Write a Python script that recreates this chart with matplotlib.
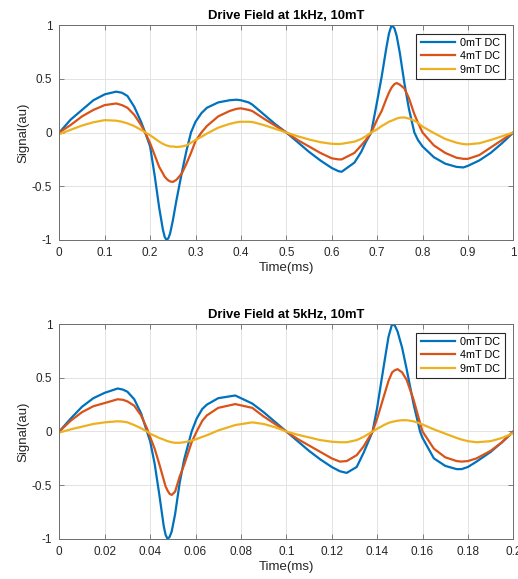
import matplotlib
matplotlib.use("Agg")
import matplotlib.pyplot as plt

plt.rcParams['font.family'] = ['Liberation Sans', 'DejaVu Sans']

# --- 1kHz drive (time in ms) ---
t_1k = [0, 0.025, 0.05, 0.075, 0.1, 0.125, 0.138, 0.15, 0.165, 0.18, 0.19, 0.2, 0.21, 0.22,
        0.228, 0.232, 0.236, 0.240, 0.244, 0.25, 0.258, 0.27, 0.28, 0.29, 0.3, 0.313, 0.325,
        0.35, 0.375, 0.39, 0.4, 0.417, 0.425, 0.45, 0.475, 0.5, 0.525, 0.55, 0.575, 0.6,
        0.615, 0.622, 0.65, 0.665, 0.675, 0.687, 0.7, 0.71, 0.72, 0.726, 0.732, 0.738,
        0.743, 0.75, 0.76, 0.77, 0.782, 0.79, 0.8, 0.825, 0.85, 0.875, 0.89, 0.9, 0.925,
        0.95, 0.975, 1.0]
dc0_1k = [0.0, 0.12, 0.21, 0.30, 0.355, 0.38, 0.37, 0.34, 0.24, 0.10, -0.01, -0.13, -0.40,
          -0.70, -0.90, -0.97, -1.0, -0.985, -0.94, -0.82, -0.63, -0.37, -0.17, 0.0, 0.10,
          0.18, 0.23, 0.28, 0.30, 0.305, 0.30, 0.28, 0.26, 0.17, 0.08, 0.0, -0.09, -0.18,
          -0.26, -0.33, -0.36, -0.365, -0.28, -0.18, -0.09, 0.0, 0.29, 0.52, 0.78, 0.92,
          1.0, 0.97, 0.90, 0.74, 0.46, 0.22, 0.0, -0.07, -0.13, -0.23, -0.29, -0.32, -0.325,
          -0.31, -0.26, -0.19, -0.10, 0.0]
dc4_1k = [0.0, 0.07, 0.15, 0.21, 0.255, 0.27, 0.255, 0.23, 0.165, 0.07, -0.01, -0.10, -0.21,
          -0.32, -0.38, -0.41, -0.43, -0.445, -0.455, -0.46, -0.44, -0.38, -0.29, -0.19,
          -0.08, 0.0, 0.06, 0.15, 0.20, 0.22, 0.225, 0.21, 0.20, 0.13, 0.065, 0.0, -0.07,
          -0.13, -0.19, -0.24, -0.25, -0.25, -0.19, -0.12, -0.07, 0.0, 0.12, 0.20, 0.31,
          0.37, 0.42, 0.45, 0.46, 0.445, 0.41, 0.32, 0.17, 0.09, 0.0, -0.12, -0.19, -0.235,
          -0.245, -0.245, -0.21, -0.14, -0.07, 0.0]
dc9_1k = [-0.015, 0.025, 0.065, 0.095, 0.115, 0.11, 0.10, 0.085, 0.06, 0.025, 0.0, -0.025,
          -0.055, -0.085, -0.105, -0.113, -0.12, -0.125, -0.13, -0.13, -0.135, -0.13, -0.12,
          -0.095, -0.07, -0.04, -0.01, 0.045, 0.08, 0.095, 0.10, 0.10, 0.098, 0.07, 0.035,
          0.0, -0.035, -0.065, -0.09, -0.105, -0.107, -0.105, -0.085, -0.06, -0.035, 0.0,
          0.03, 0.06, 0.085, 0.10, 0.11, 0.12, 0.13, 0.138, 0.14, 0.13, 0.11, 0.09, 0.055,
          -0.005, -0.06, -0.095, -0.108, -0.11, -0.10, -0.07, -0.035, 0.0]

# --- 5kHz drive (time in ms) ---
t_5k = [0, 0.005, 0.01, 0.015, 0.02, 0.0257, 0.028, 0.03, 0.033, 0.036, 0.0386, 0.04,
        0.042, 0.044, 0.046, 0.0468, 0.0477, 0.0486, 0.0495, 0.051, 0.053, 0.055, 0.0583,
        0.0605, 0.063, 0.065, 0.07, 0.0775, 0.085, 0.09, 0.095, 0.1, 0.105, 0.11, 0.115,
        0.12, 0.1236, 0.1266, 0.131, 0.134, 0.138, 0.14, 0.143, 0.145, 0.1466, 0.1478,
        0.149, 0.151, 0.153, 0.156, 0.1589, 0.16, 0.165, 0.17, 0.175, 0.1772, 0.18,
        0.1838, 0.19, 0.195, 0.2]
dc0_5k = [0.0, 0.12, 0.23, 0.31, 0.36, 0.40, 0.39, 0.37, 0.30, 0.17, 0.0, -0.09,
          -0.30, -0.58, -0.88, -0.96, -1.0, -0.98, -0.93, -0.77, -0.48, -0.26, 0.0,
          0.12, 0.21, 0.25, 0.31, 0.335, 0.26, 0.18, 0.09, 0.0, -0.09, -0.18, -0.26,
          -0.33, -0.37, -0.385, -0.33, -0.20, 0.0, 0.22, 0.62, 0.88, 1.0, 0.985,
          0.93, 0.78, 0.58, 0.26, 0.0, -0.06, -0.25, -0.32, -0.35, -0.35, -0.33,
          -0.28, -0.19, -0.10, 0.0]
dc4_5k = [0.0, 0.10, 0.18, 0.235, 0.265, 0.30, 0.295, 0.28, 0.24, 0.15, 0.03, -0.05,
          -0.16, -0.30, -0.45, -0.51, -0.55, -0.58, -0.59, -0.56, -0.42, -0.31, -0.10,
          0.0, 0.10, 0.15, 0.22, 0.255, 0.22, 0.14, 0.07, 0.0, -0.07, -0.13, -0.19,
          -0.25, -0.28, -0.275, -0.22, -0.14, 0.0, 0.12, 0.33, 0.47, 0.55, 0.57,
          0.58, 0.55, 0.48, 0.30, 0.08, 0.0, -0.16, -0.24, -0.275, -0.28, -0.275,
          -0.25, -0.18, -0.10, 0.0]
dc9_5k = [-0.01, 0.02, 0.045, 0.07, 0.085, 0.095, 0.092, 0.085, 0.06, 0.03, 0.0, -0.02,
          -0.04, -0.06, -0.075, -0.083, -0.09, -0.095, -0.10, -0.105, -0.105, -0.10, -0.085,
          -0.07, -0.05, -0.035, 0.01, 0.06, 0.085, 0.07, 0.04, 0.0, -0.03, -0.055, -0.08,
          -0.095, -0.10, -0.10, -0.08, -0.05, 0.0, 0.025, 0.06, 0.08, 0.09, 0.095,
          0.10, 0.105, 0.105, 0.095, 0.075, 0.065, 0.02, -0.02, -0.06, -0.075, -0.09,
          -0.10, -0.09, -0.06, -0.015]

series_names = ['0mT DC', '4mT DC', '9mT DC']
colors = ['#0072BD', '#D95319', '#EDB120']

titles = ['Drive Field at 1kHz, 10mT', 'Drive Field at 5kHz, 10mT']
xticks_1k = [0, 0.1, 0.2, 0.3, 0.4, 0.5, 0.6, 0.7, 0.8, 0.9, 1.0]
xlabels_1k = ['0', '0.1', '0.2', '0.3', '0.4', '0.5', '0.6', '0.7', '0.8', '0.9', '1']
xticks_5k = [0, 0.02, 0.04, 0.06, 0.08, 0.1, 0.12, 0.14, 0.16, 0.18, 0.2]
xlabels_5k = ['0', '0.02', '0.04', '0.06', '0.08', '0.1', '0.12', '0.14', '0.16', '0.18', '0.2']
yticks = [-1, -0.5, 0, 0.5, 1]
ylabels = ['-1', '-0.5', '0', '0.5', '1']

fig = plt.figure(figsize=(5.18, 5.79), dpi=100)
ax1 = fig.add_axes([0.1145, 0.5855, 0.8765, 0.3713])
ax2 = fig.add_axes([0.1145, 0.0691, 0.8765, 0.3713])

panels = [
    (ax1, t_1k, [dc0_1k, dc4_1k, dc9_1k], xticks_1k, xlabels_1k, titles[0]),
    (ax2, t_5k, [dc0_5k, dc4_5k, dc9_5k], xticks_5k, xlabels_5k, titles[1]),
]

axis_col = '#262626'
for ax, t, ys, xt, xl, title in panels:
    for y, name, c in zip(ys, series_names, colors):
        ax.plot(t, y, color=c, lw=1.6, label=name, solid_joinstyle='round')

    ax.set_xlim(xt[0], xt[-1])
    ax.set_ylim(-1, 1)
    ax.set_xticks(xt)
    ax.set_xticklabels(xl)
    ax.set_yticks(yticks)
    ax.set_yticklabels(ylabels)

    # matlab-ish look: box, inward ticks on all sides, faint grid
    ax.grid(True, color='#e3e3e3', lw=0.7)
    ax.set_axisbelow(True)
    for sp in ax.spines.values():
        sp.set_color('#6e6e6e')
        sp.set_linewidth(0.7)
    ax.tick_params(direction='in', length=3.5, width=0.6, color='#6e6e6e',
                   top=True, right=True, labelsize=8.5, labelcolor=axis_col, pad=5)

    ax.set_title(title, fontsize=9.4, fontweight='bold', color='black', pad=4)
    ax.set_xlabel('Time(ms)', fontsize=9.5, color=axis_col, labelpad=2.5)
    ax.set_ylabel('Signal(au)', fontsize=9.5, color=axis_col, labelpad=1.5)

    leg = ax.legend(loc='upper right', fontsize=7.8, fancybox=False, framealpha=1,
                    edgecolor='#262626', handlelength=3.2, borderaxespad=0.8,
                    borderpad=0.4, labelspacing=0.3, handletextpad=0.45)
    leg.get_frame().set_linewidth(0.8)

plt.savefig('out.png', dpi=100)
